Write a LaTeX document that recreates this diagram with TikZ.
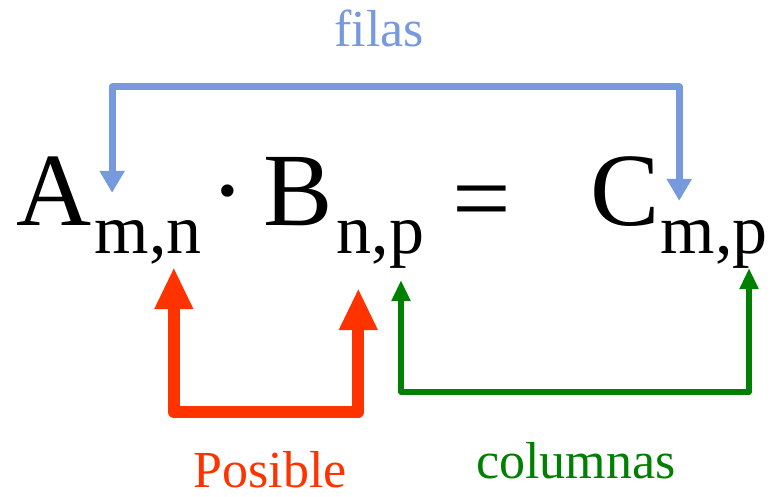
\documentclass[tikz,border=0pt]{standalone}
\usepackage{fontspec}
\setmainfont{Liberation Serif}
\newfontfamily\eqfont{Liberation Serif}
\usetikzlibrary{arrows.meta,positioning,calc}
\definecolor{filasblue}{HTML}{7799DD}
\definecolor{posred}{HTML}{FF3300}
\definecolor{colgreen}{HTML}{008000}
\tikzset{
  bigsym/.style={inner sep=0pt,anchor=base west,font=\eqfont\fontsize{104}{110}\selectfont},
  subsym/.style={inner sep=0pt,anchor=base west,font=\eqfont\fontsize{70}{76}\selectfont},
  lbl/.style={inner sep=0pt,anchor=base,font=\eqfont\fontsize{52}{58}\selectfont},
  filasflow/.style={{Triangle[width=24pt,length=22pt]}-{Triangle[width=24pt,length=22pt]},line width=7pt,color=filasblue,line join=round},
  posflow/.style={{Triangle[width=36pt,length=42pt]}-{Triangle[width=36pt,length=42pt]},line width=12pt,color=posred,line join=round},
  colflow/.style={{Triangle[width=18pt,length=21pt]}-{Triangle[width=18pt,length=21pt]},line width=5.5pt,color=colgreen,line join=round},
}

\begin{document}
\begin{tikzpicture}[x=1pt,y=1pt]
  \useasboundingbox (0,0) rectangle (773,496);
  % main symbols
  \node[bigsym] (A) at (16.5,271) {A};
  \node[bigsym,anchor=center] (dot) at (228,291) {·};
  \node[bigsym] (B) at (263.5,271) {B};
  \node[bigsym,anchor=base] (eq) at (482,263) {=};
  \node[bigsym] (C) at (590,271) {C};
  % subscripts, one node per letter
  \foreach \s/\x/\p/\q in {1/94/m/n, 2/336/n/p, 3/660/m/p} {
    \node[subsym] (a\s) at (\x,243) {\p};
    \node[subsym] (k\s) at (a\s.base east) {,};
    \node[subsym] (b\s) at (k\s.base east) {\q};
  }
  % arrow ends
  \coordinate (fA) at ($(a1.north west)!0.33!(a1.north east)$);
  \coordinate (fC) at ($(a3.north west)!0.35!(a3.north east)$);
  \coordinate (pA) at ($(b1.south west)!0.2!(b1.south east)$);
  \coordinate (pB) at ($(a2.south west)!0.63!(a2.south east)$);
  \coordinate (cB) at ($(b2.south west)!0.33!(b2.south east)$);
  \coordinate (cC) at ($(b3.south west)!0.46!(b3.south east)$);
  \draw[filasflow,shorten <=27pt,shorten >=19pt] (fA) -- (fA |- 0,409) -| (fC);
  \draw[posflow,shorten <=14pt,shorten >=35pt] (pA) -- (pA |- 0,84) -| (pB);
  \draw[colflow,shorten <=12pt,shorten >=0pt] (cB) -- (cB |- 0,104) -| (cC);
  % labels
  \node[lbl,text=filasblue] (filas) at (379,449) {filas};
  \node[lbl,text=posred] (posible) at (270,9) {Posible};
  \node[lbl,text=colgreen] (columnas) at (576,18) {columnas};
\end{tikzpicture}
\end{document}
